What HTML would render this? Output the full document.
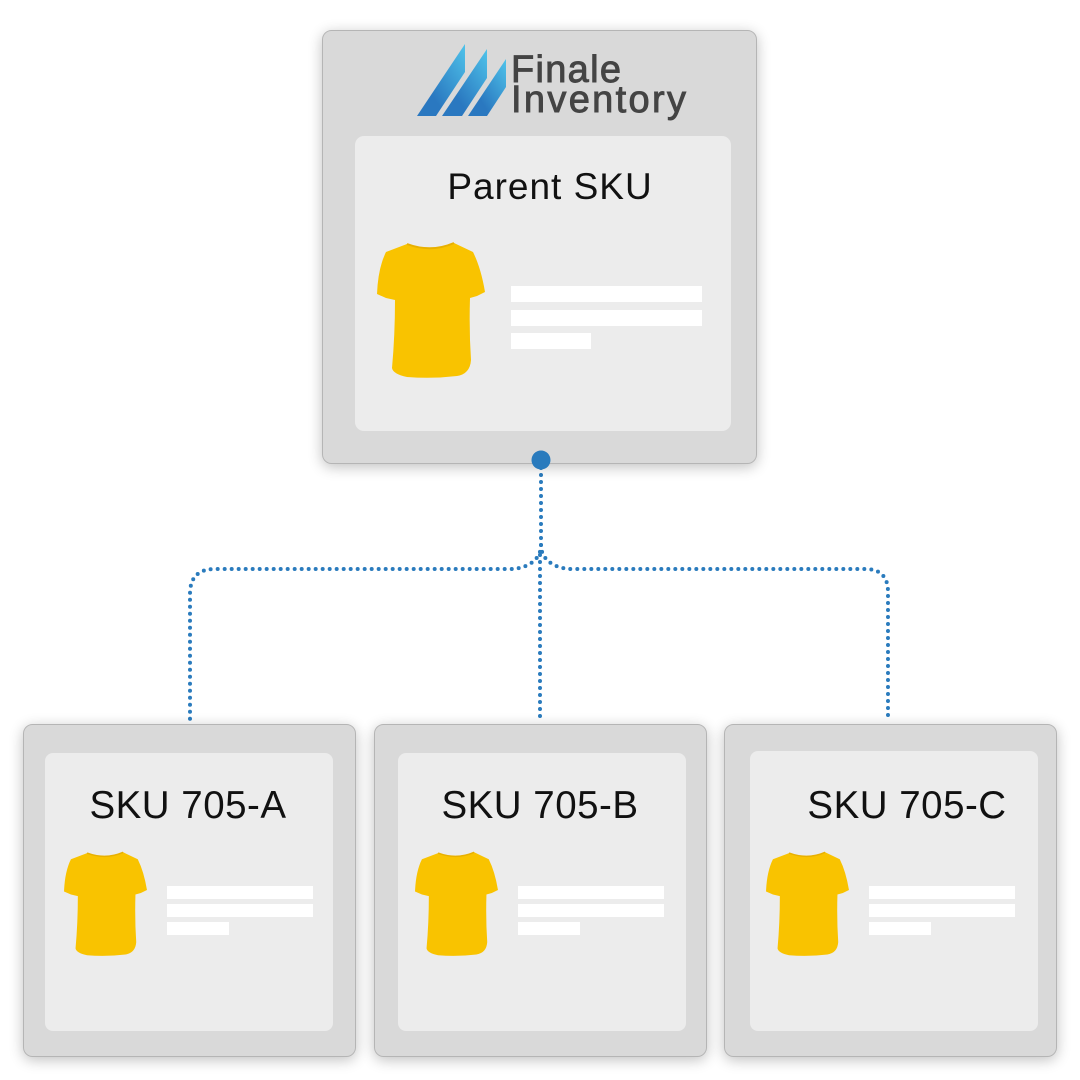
<!DOCTYPE html>
<html><head><meta charset="utf-8"><style>
html,body{margin:0;padding:0;background:#fff;width:1080px;height:1080px;overflow:hidden}
text{font-family:"Liberation Sans",sans-serif}
</style></head><body>
<svg width="1080" height="1080" viewBox="0 0 1080 1080" xmlns="http://www.w3.org/2000/svg">
<defs>
<filter id="sh" x="-20%" y="-20%" width="140%" height="140%"><feGaussianBlur in="SourceAlpha" stdDeviation="7"/><feOffset dy="3"/><feComponentTransfer><feFuncA type="linear" slope="0.25"/></feComponentTransfer><feMerge><feMergeNode/><feMergeNode in="SourceGraphic"/></feMerge></filter>
<linearGradient id="lg" x1="0" y1="1" x2="1" y2="0"><stop offset="0.3" stop-color="#2a78c0"/><stop offset="1" stop-color="#4fc3ea"/></linearGradient>
<symbol id="shirt" viewBox="0 0 108 138">
<path d="M30 4 Q54 12 77 3 L96 12 Q104 28 108 52 L100 56 L93 58 Q92 90 94 120 Q93 134 80 136 Q55 139 30 137 Q16 134 15 128 Q18 95 18 60 L9 58 L0 54 Q1 28 9 12 Z" fill="#f9c300"/>
<path d="M30 4 Q54 13 77 3" fill="none" stroke="#e8b000" stroke-width="2"/>
</symbol>
</defs>
<g fill="none" stroke="#2a7bbd" stroke-width="4" stroke-linecap="round" stroke-dasharray="0 7">
<path d="M541 468 L541 545 Q541 558 528 565 Q520 569 510 569 L215 569 Q190 569 190 594 L190 720"/>
<path d="M541 545 Q541 558 554 565 Q562 569 572 569 L865 569 Q888 569 888 592 L888 720"/>
<path d="M540 555 L540 722"/>
</g>
<rect x="322.5" y="30.5" width="434" height="433" rx="9" fill="#d9d9d9" stroke="#b5b5b5" filter="url(#sh)"/>
<rect x="355" y="136" width="376" height="295" rx="9" fill="#ececec"/>
<circle cx="541" cy="460" r="9.5" fill="#2a7bbd"/>
<path d="M417 116 L465 44 L465 72 L436 116 Z" fill="url(#lg)"/>
<path d="M442 116 L487 49 L487 78 L462 116 Z" fill="url(#lg)"/>
<path d="M468 116 L506 59 L506 87 L487 116 Z" fill="url(#lg)"/>
<text x="511" y="82" font-size="38" fill="#444" stroke="#444" stroke-width="0.9" textLength="110">Finale</text>
<text x="511" y="112" font-size="38" fill="#444" stroke="#444" stroke-width="0.9" textLength="175">Inventory</text>
<text x="550" y="199" font-size="37" text-anchor="middle" fill="#111" letter-spacing="1">Parent SKU</text>
<use href="#shirt" x="377" y="240" width="108" height="138"/>
<rect x="511" y="286" width="191" height="16" fill="#fff"/>
<rect x="511" y="310" width="191" height="16" fill="#fff"/>
<rect x="511" y="333" width="80" height="16" fill="#fff"/>
<g>
<rect x="23.5" y="724.5" width="332" height="332" rx="9" fill="#d9d9d9" stroke="#b5b5b5" filter="url(#sh)"/>
<rect x="45" y="753" width="288" height="278" rx="8" fill="#ececec"/>
<text x="188" y="818" font-size="38.5" text-anchor="middle" fill="#111" letter-spacing="0.5">SKU 705-A</text>
<use href="#shirt" x="64" y="850" width="83" height="106"/>
<rect x="167" y="886" width="146" height="13" fill="#fff"/>
<rect x="167" y="904" width="146" height="13" fill="#fff"/>
<rect x="167" y="922" width="62" height="13" fill="#fff"/>
</g>
<g>
<rect x="374.5" y="724.5" width="332" height="332" rx="9" fill="#d9d9d9" stroke="#b5b5b5" filter="url(#sh)"/>
<rect x="398" y="753" width="288" height="278" rx="8" fill="#ececec"/>
<text x="540" y="818" font-size="38.5" text-anchor="middle" fill="#111" letter-spacing="0.5">SKU 705-B</text>
<use href="#shirt" x="415" y="850" width="83" height="106"/>
<rect x="518" y="886" width="146" height="13" fill="#fff"/>
<rect x="518" y="904" width="146" height="13" fill="#fff"/>
<rect x="518" y="922" width="62" height="13" fill="#fff"/>
</g>
<g>
<rect x="724.5" y="724.5" width="332" height="332" rx="9" fill="#d9d9d9" stroke="#b5b5b5" filter="url(#sh)"/>
<rect x="750" y="751" width="288" height="280" rx="8" fill="#ececec"/>
<text x="907" y="818" font-size="38.5" text-anchor="middle" fill="#111" letter-spacing="0.5">SKU 705-C</text>
<use href="#shirt" x="766" y="850" width="83" height="106"/>
<rect x="869" y="886" width="146" height="13" fill="#fff"/>
<rect x="869" y="904" width="146" height="13" fill="#fff"/>
<rect x="869" y="922" width="62" height="13" fill="#fff"/>
</g>
</svg>
</body></html>
